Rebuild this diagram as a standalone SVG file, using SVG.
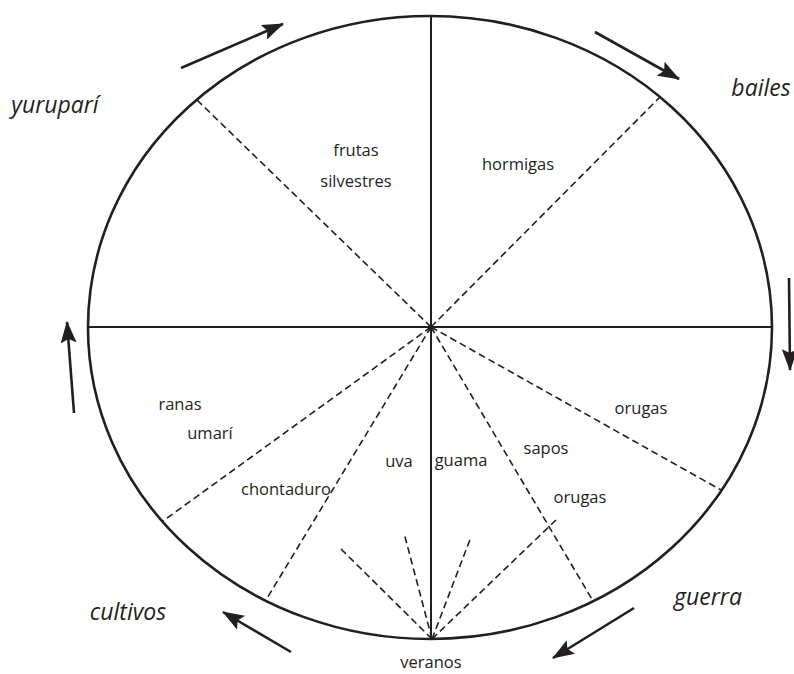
<svg xmlns="http://www.w3.org/2000/svg" width="794" height="674" viewBox="0 0 794 674">
<defs>
<marker id="ah" viewBox="0 0 22 16" refX="21" refY="8" markerWidth="22" markerHeight="16" markerUnits="userSpaceOnUse" orient="auto">
<path d="M0,0 L22,8 L0,16 L4,8 Z" fill="#231f20"/>
</marker>
</defs>
<style>
.lbl{font-family:"Open Sans","Noto Sans","Liberation Sans",sans-serif;font-size:16.5px;fill:#231f20;text-anchor:middle}
.it{font-family:"Open Sans","Noto Sans","Liberation Sans",sans-serif;font-size:23px;font-style:italic;fill:#231f20;text-anchor:middle}
.solid{stroke:#231f20;stroke-width:2;fill:none}
.dash{stroke:#231f20;stroke-width:1.6;fill:none;stroke-dasharray:7 4}
.arr{stroke:#231f20;stroke-width:2.6;fill:none;marker-end:url(#ah)}
</style>
<rect width="794" height="674" fill="#fff"/>
<g id="circle">
<ellipse cx="430" cy="327.5" rx="342" ry="311.5" fill="none" stroke="#231f20" stroke-width="2.6"/>
</g>
<g id="connectors">
<line class="solid" x1="431" y1="16" x2="431" y2="639"/>
<line class="solid" x1="88" y1="327" x2="772" y2="327"/>
<line class="dash" x1="431" y1="327" x2="197" y2="100"/>
<line class="dash" x1="431" y1="327" x2="660" y2="97"/>
<line class="dash" x1="431" y1="327" x2="163" y2="521"/>
<line class="dash" x1="431" y1="327" x2="266" y2="600"/>
<line class="dash" x1="431" y1="327" x2="721" y2="490"/>
<line class="dash" x1="431" y1="327" x2="593" y2="601"/>
<line class="dash" x1="432" y1="639" x2="341" y2="549"/>
<line class="dash" x1="432" y1="639" x2="404" y2="533"/>
<line class="dash" x1="432" y1="639" x2="471" y2="537"/>
<line class="dash" x1="432" y1="639" x2="556" y2="520"/>
<line class="arr" x1="181" y1="68" x2="283" y2="24"/>
<line class="arr" x1="595" y1="32" x2="679" y2="79"/>
<line class="arr" x1="789" y1="278" x2="790" y2="370"/>
<line class="arr" x1="634" y1="608" x2="553" y2="658"/>
<line class="arr" x1="291" y1="652" x2="223" y2="612"/>
<line class="arr" x1="74" y1="413" x2="67" y2="322"/>
</g>
<g id="label-yurupari"><text class="it" x="55" y="113">yuruparí</text></g>
<g id="label-bailes"><text class="it" x="761" y="96">bailes</text></g>
<g id="label-cultivos"><text class="it" x="128" y="620">cultivos</text></g>
<g id="label-guerra"><text class="it" x="708" y="605">guerra</text></g>
<g id="node-frutas"><text class="lbl" x="356" y="156">frutas</text><text class="lbl" x="356" y="187">silvestres</text></g>
<g id="node-hormigas"><text class="lbl" x="518" y="170">hormigas</text></g>
<g id="node-ranas"><text class="lbl" x="180" y="410">ranas</text></g>
<g id="node-umari"><text class="lbl" x="210" y="439">umarí</text></g>
<g id="node-chontaduro"><text class="lbl" x="286" y="495">chontaduro</text></g>
<g id="node-uva"><text class="lbl" x="399" y="467">uva</text></g>
<g id="node-guama"><text class="lbl" x="461" y="466">guama</text></g>
<g id="node-sapos"><text class="lbl" x="546" y="454">sapos</text></g>
<g id="node-orugas1"><text class="lbl" x="641" y="414">orugas</text></g>
<g id="node-orugas2"><text class="lbl" x="580" y="503">orugas</text></g>
<g id="node-veranos"><text class="lbl" x="431" y="668">veranos</text></g>
</svg>
